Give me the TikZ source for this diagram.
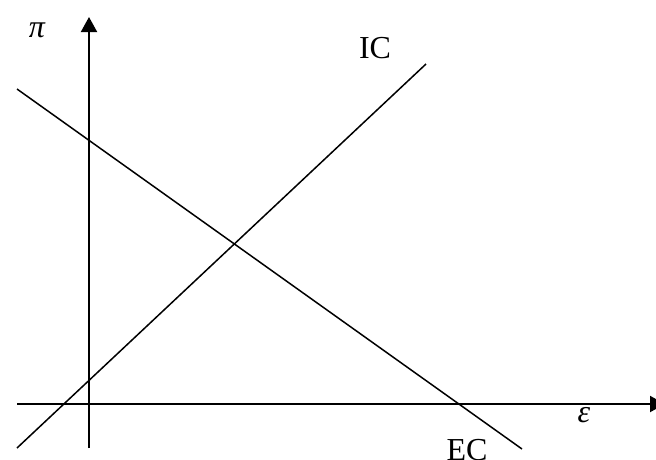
\documentclass[tikz,border=0pt]{standalone}
\usepackage{fontspec}
\setmainfont{Liberation Serif}
\usetikzlibrary{arrows.meta}
\begin{document}
\begin{tikzpicture}[x=1pt,y=-1pt,
  axis/.style={line width=2pt,-{Triangle[length=15pt,width=16pt]}},
  curve/.style={line width=1.5pt},
  lbl/.style={inner sep=0pt,anchor=base,font=\fontsize{32}{32}\selectfont}]
\useasboundingbox (0,0) rectangle (656,459);
\coordinate (yb) at (89,448);
\coordinate (yt) at (89,17);
\coordinate (xl) at (17,404);
\coordinate (xr) at (665,404);
\coordinate (ic1) at (17,448);
\coordinate (ic2) at (426,64);
\coordinate (ec1) at (17,89);
\coordinate (ec2) at (522,449);
\draw[axis] (yb) -- (yt);
\draw[axis] (xl) -- (xr);
\draw[curve] (ic1) -- (ic2);
\draw[curve] (ec1) -- (ec2);
\node[lbl] (pi) at (37,37) {\itshape π};
\node[lbl] (IC) at (375,58) {IC};
\node[lbl] (eps) at (584,422) {\itshape ε};
\node[lbl] (EC) at (467,460) {EC};
\end{tikzpicture}
\end{document}
